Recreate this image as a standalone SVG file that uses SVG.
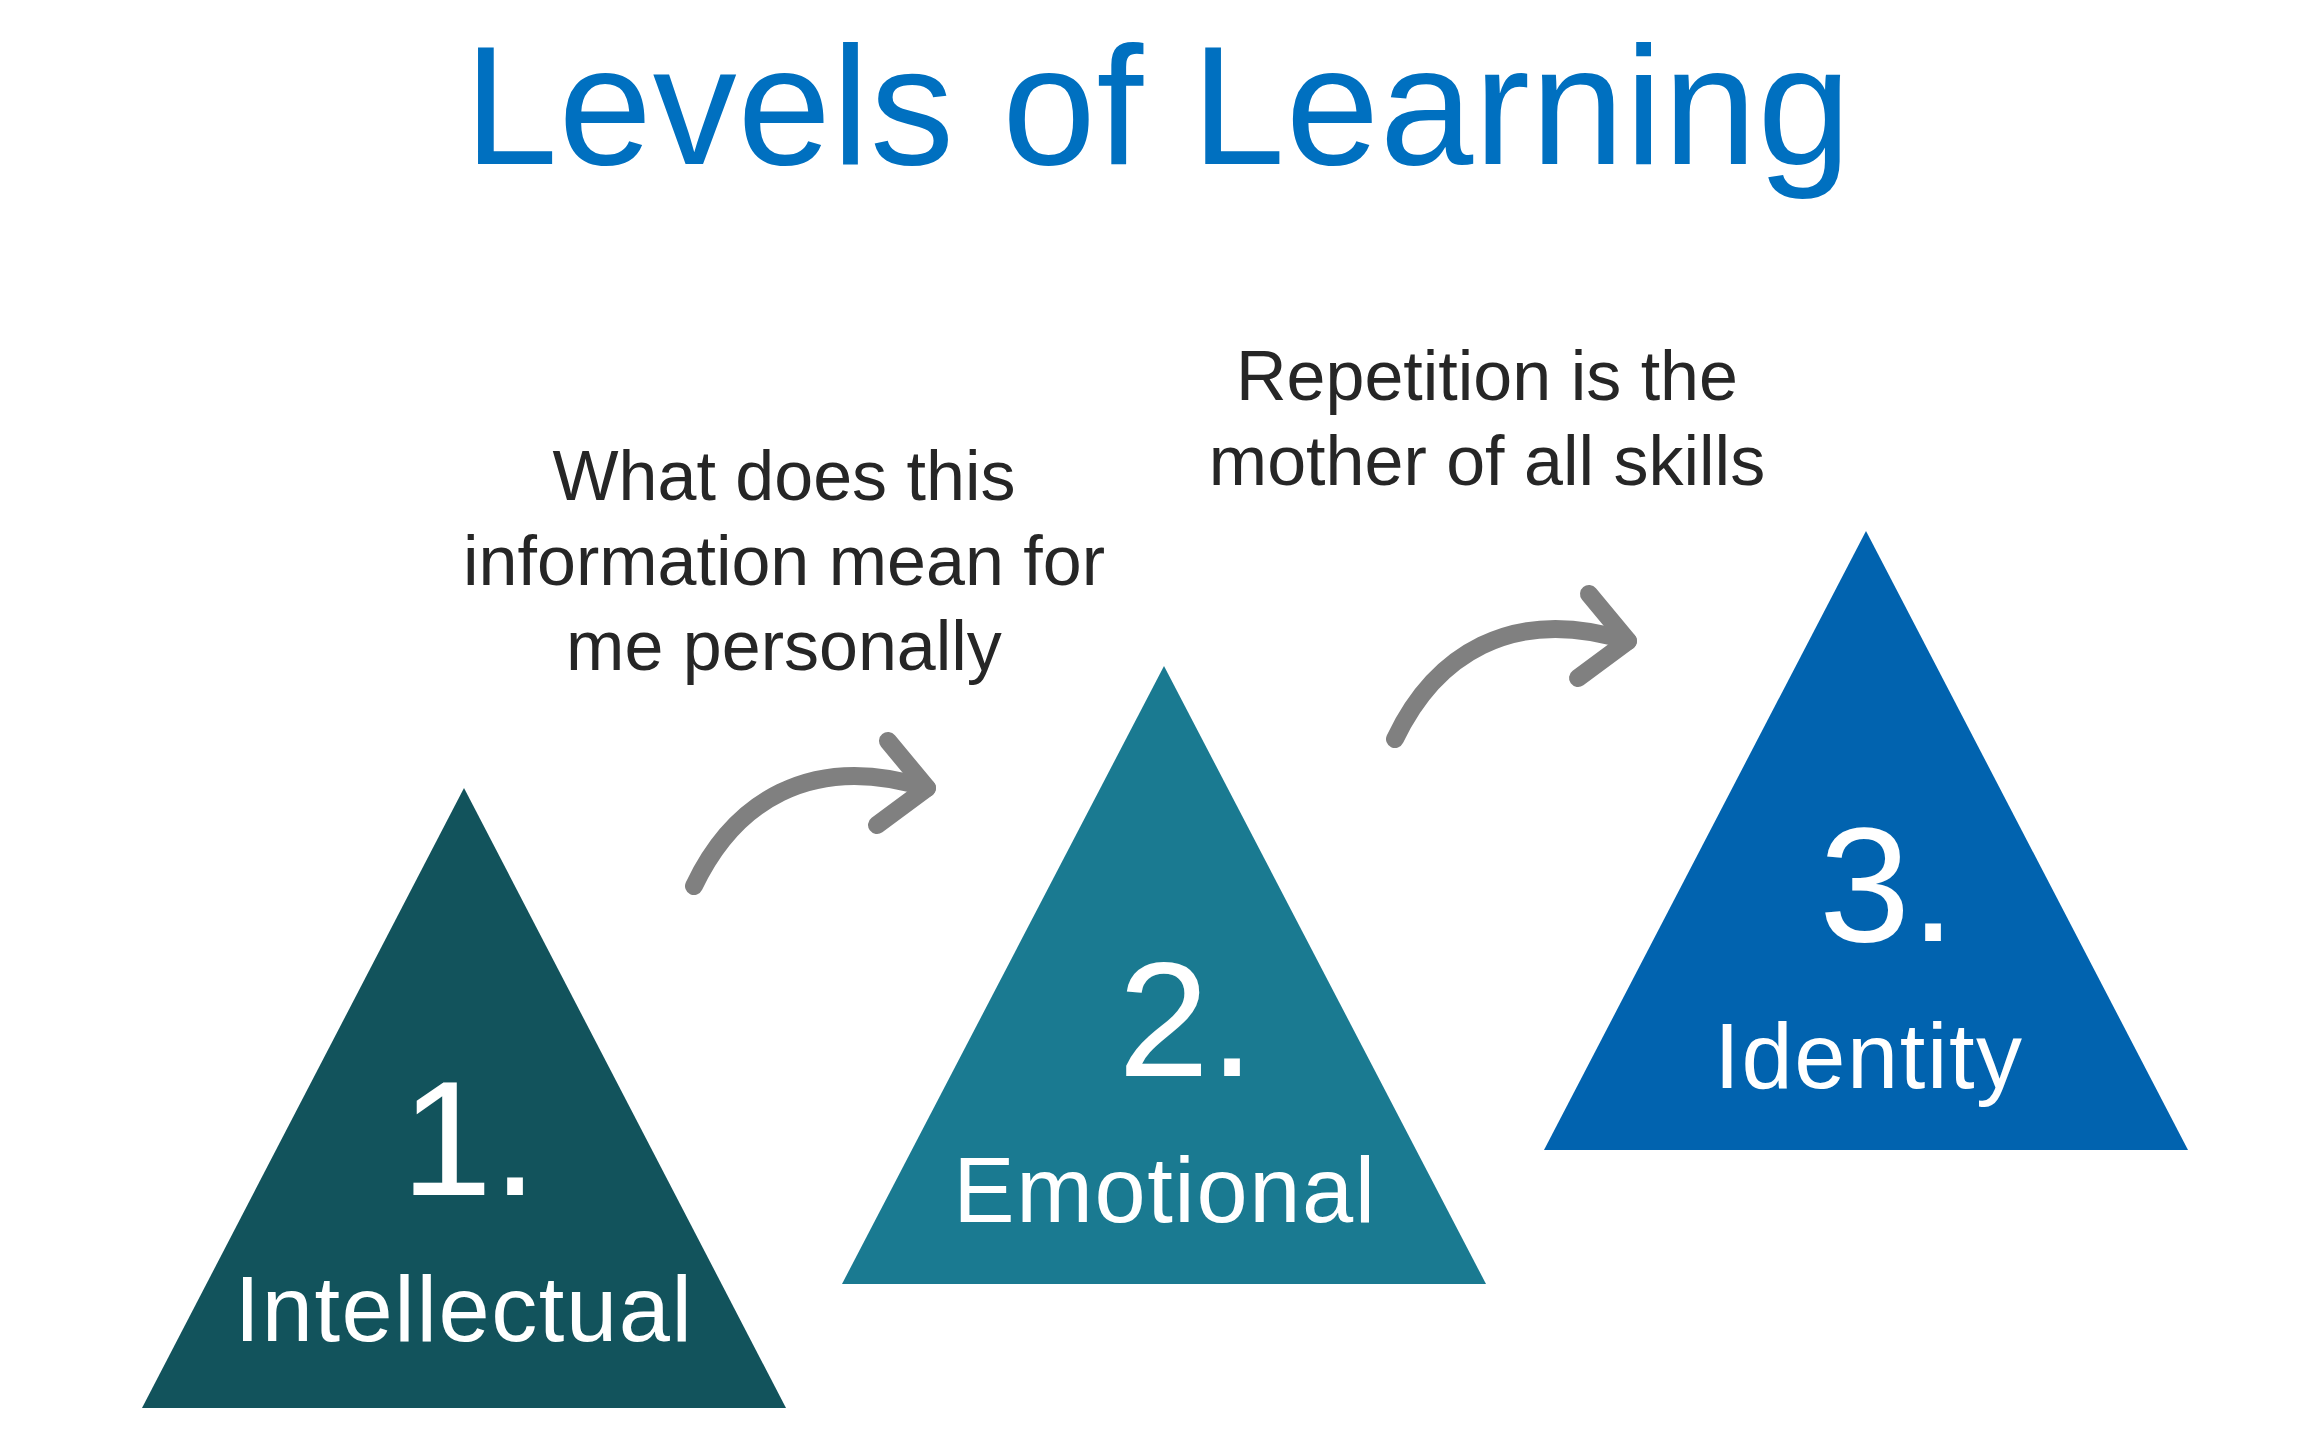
<svg xmlns="http://www.w3.org/2000/svg" width="2321" height="1440" viewBox="0 0 2321 1440">
<defs>
<style>
.title{font-family:"Liberation Sans",Arial,sans-serif;font-size:168px;fill:#0070c0;text-anchor:middle;letter-spacing:0.8px}
.note{font-family:"Liberation Sans",Arial,sans-serif;font-size:70px;fill:#262626;text-anchor:middle}
.num{font-family:"Liberation Sans",Arial,sans-serif;font-size:164px;fill:#ffffff}
.lbl{font-family:"Liberation Sans",Arial,sans-serif;font-size:92px;fill:#ffffff;text-anchor:middle;letter-spacing:1.6px}
.arrow{fill:none;stroke:#808080;stroke-width:18;stroke-linecap:round;stroke-linejoin:round}
</style>
<g id="curved-arrow">
<path d="M1395,739 C1434,657 1510,604 1628,641"/>
<path d="M1589,594 L1628,641 L1578,678"/>
</g>
</defs>
<rect width="2321" height="1440" fill="#ffffff"/>
<text class="title" x="1158" y="164">Levels of Learning</text>
<g id="note-1">
<text class="note" x="784" y="500">What does this</text>
<text class="note" x="784" y="585">information mean for</text>
<text class="note" x="784" y="670">me personally</text>
</g>
<g id="note-2">
<text class="note" x="1487" y="400">Repetition is the</text>
<text class="note" x="1487" y="485">mother of all skills</text>
</g>
<g id="node-intellectual">
<polygon points="464,788 142,1408 786,1408" fill="#12535c"/>
<text class="num" x="401" y="1195">1.</text>
<text class="lbl" x="464" y="1341">Intellectual</text>
</g>
<g id="node-emotional">
<polygon points="1164,666 842,1284 1486,1284" fill="#1a7a91"/>
<text class="num" x="1118" y="1076">2.</text>
<text class="lbl" x="1165" y="1222">Emotional</text>
</g>
<g id="node-identity">
<polygon points="1866,531 1544,1150 2188,1150" fill="#0163af"/>
<text class="num" x="1819" y="941">3.</text>
<text class="lbl" x="1869" y="1088">Identity</text>
</g>
<g id="connectors" class="arrow">
<use href="#curved-arrow" transform="translate(-701,147)"/>
<use href="#curved-arrow"/>
</g>
</svg>
